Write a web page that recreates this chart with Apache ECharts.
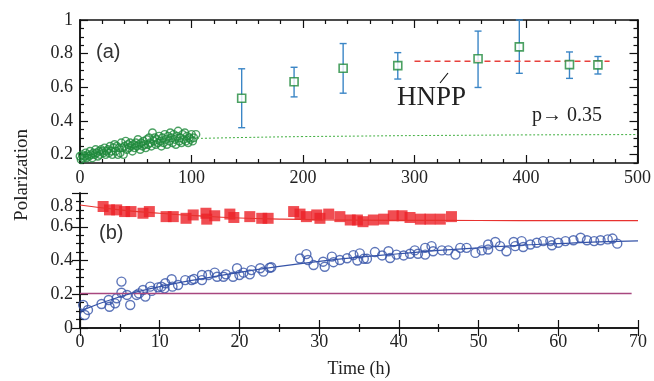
<!DOCTYPE html>
<html>
<head>
<meta charset="utf-8">
<script src="https://cdn.jsdelivr.net/npm/echarts@6/dist/echarts.min.js"></script>
<style>
  html, body { margin: 0; padding: 0; background: #fff; }
  #chart { width: 654px; height: 381px; }
</style>
</head>
<body>
<div id="chart"></div>
<script>
// ---- panel (a): polarization vs number ----
const greenX = [0, 1, 2, 3, 4, 5, 6, 7, 8, 9, 10, 11, 12, 13, 14, 15, 16, 17, 18, 19, 20, 21, 22, 23, 24, 25, 26, 27, 28, 29,
  30, 31, 32, 33, 34, 35, 36, 37, 38, 39, 40, 41, 42, 43, 44, 45, 46, 47, 48, 49, 50, 51, 52, 53, 54, 55, 56, 57, 58, 59,
  60, 61, 62, 63, 64, 65, 66, 67, 68, 69, 70, 71, 72, 73, 74, 75, 76, 77, 78, 79, 80, 81, 82, 83, 84, 85, 86, 87, 88, 89,
  90, 91, 92, 93, 94, 95, 96, 97, 98, 99, 100, 101, 102, 104];
const greenY = [0.19, 0.17, 0.2, 0.18, 0.19, 0.21, 0.18, 0.2, 0.19, 0.22, 0.2, 0.18, 0.21, 0.2, 0.23, 0.21, 0.19, 0.22, 0.2, 0.23,
  0.22, 0.21, 0.24, 0.2, 0.22, 0.23, 0.21, 0.25, 0.22, 0.2, 0.24, 0.26, 0.22, 0.25, 0.2, 0.24, 0.21, 0.27, 0.24, 0.2,
  0.25, 0.28, 0.23, 0.26, 0.24, 0.27, 0.25, 0.22, 0.26, 0.24, 0.27, 0.25, 0.29, 0.26, 0.23, 0.27, 0.25, 0.28, 0.26, 0.24,
  0.29, 0.26, 0.3, 0.27, 0.25, 0.33, 0.28, 0.3, 0.26, 0.29, 0.27, 0.31, 0.28, 0.25, 0.3, 0.27, 0.32, 0.29, 0.26, 0.31,
  0.28, 0.33, 0.3, 0.27, 0.32, 0.29, 0.26, 0.31, 0.34, 0.28, 0.3, 0.27, 0.32, 0.29, 0.33, 0.28, 0.31, 0.27, 0.3, 0.29,
  0.32, 0.28, 0.3, 0.32];
const greenFitX = [105, 150, 200, 250, 300, 350, 400, 450, 500];
const greenFitY = [0.296, 0.302, 0.307, 0.31, 0.313, 0.315, 0.317, 0.318, 0.319];

const squareX = [145, 192, 236, 285, 357, 394, 439, 464.5];
const squareY = [0.535, 0.633, 0.713, 0.729, 0.77, 0.84, 0.735, 0.733];
const squareLo = [0.36, 0.543, 0.565, 0.649, 0.599, 0.683, 0.653, 0.679];
const squareHi = [0.71, 0.719, 0.86, 0.806, 0.934, 1.0, 0.81, 0.783];

const hnppX = [300, 475];
const hnppY = [0.755, 0.755];

// ---- panel (b): polarization vs time ----
const redX = [2.9, 3.7, 4.6, 5.6, 6.4, 7.9, 8.7, 10.8, 11.7, 13.3, 14.2, 15.8, 15.9, 16.9, 18.8, 19.3, 21.3, 22.8, 23.6,
  26.8, 27.6, 28.4, 29.7, 30.1, 31.2, 32.6, 33.9, 34.8, 35.5, 36.8, 38.1, 39.3, 40.4, 41.4, 42.7, 43.9, 45.2, 46.6];
const redY = [0.72, 0.7, 0.7, 0.69, 0.69, 0.68, 0.69, 0.66, 0.66, 0.65, 0.67, 0.68, 0.645, 0.665, 0.675, 0.655, 0.66, 0.65, 0.65,
  0.69, 0.675, 0.66, 0.67, 0.65, 0.675, 0.66, 0.64, 0.64, 0.63, 0.64, 0.645, 0.665, 0.665, 0.655, 0.645, 0.645, 0.645, 0.66];
const redFitX = [0, 5, 10, 15, 20, 25, 30, 40, 50, 60, 70];
const redFitY = [0.729, 0.7, 0.68, 0.664, 0.652, 0.645, 0.641, 0.638, 0.637, 0.636, 0.636];

const blueX = [0.4, 0.6, 1.0, 2.7, 3.6, 3.7, 4.4, 4.6, 5.2, 5.2, 5.9, 6.3, 7.1, 7.4, 7.9, 8.2, 8.8, 9.0, 9.8, 10.2,
  10.6, 10.7, 11.5, 11.6, 12.3, 13.2, 14.0, 14.3, 15.3, 15.3, 16.1, 16.9, 17.2, 18.0, 18.3, 19.2, 19.7, 20.0, 20.5, 21.3,
  21.5, 22.6, 23.0, 23.8, 24.0, 27.6, 28.4, 28.6, 29.3, 30.5, 30.7, 31.6, 31.8, 32.6, 33.5, 34.3, 34.8, 35.1, 35.6, 36.0,
  37.0, 37.9, 38.7, 38.9, 39.7, 40.6, 41.4, 42.0, 42.4, 43.3, 43.3, 44.1, 44.3, 45.4, 46.2, 47.1, 47.7, 48.5, 49.6, 50.4,
  51.2, 51.2, 52.1, 52.7, 53.5, 54.4, 54.6, 55.4, 55.6, 56.5, 57.3, 58.1, 59.0, 59.2, 60.0, 60.9, 61.9, 62.8, 63.6, 64.5,
  65.3, 66.2, 66.8, 67.4];
const blueY = [0.136, 0.077, 0.107, 0.142, 0.166, 0.126, 0.146, 0.176, 0.209, 0.275, 0.196, 0.136, 0.196, 0.205, 0.225, 0.186, 0.245, 0.22, 0.241, 0.245,
  0.235, 0.265, 0.289, 0.245, 0.255, 0.284, 0.284, 0.29, 0.314, 0.284, 0.314, 0.328, 0.304, 0.304, 0.318, 0.304, 0.354, 0.314, 0.328, 0.318,
  0.343, 0.354, 0.334, 0.357, 0.36, 0.412, 0.438, 0.403, 0.373, 0.393, 0.363, 0.423, 0.39, 0.403, 0.413, 0.432, 0.4, 0.442, 0.41, 0.41,
  0.45, 0.43, 0.455, 0.415, 0.435, 0.43, 0.44, 0.46, 0.44, 0.475, 0.435, 0.485, 0.455, 0.46, 0.46, 0.435, 0.475, 0.475, 0.445, 0.46,
  0.495, 0.465, 0.51, 0.485, 0.455, 0.51, 0.485, 0.515, 0.48, 0.495, 0.505, 0.515, 0.515, 0.49, 0.505, 0.515, 0.52, 0.535, 0.52, 0.515,
  0.52, 0.525, 0.53, 0.5];
const blueFitX = [0, 5, 10, 15, 20, 25, 30, 35, 40, 45, 50, 55, 60, 65, 70];
const blueFitY = [0.1, 0.185, 0.245, 0.29, 0.33, 0.365, 0.395, 0.42, 0.44, 0.46, 0.475, 0.49, 0.5, 0.51, 0.516];

const limitX = [0, 69.2];
const limitY = [0.205, 0.205];

const topMajor = [0.2, 0.4, 0.6, 0.8, 1];
const topMinor = [0.15, 0.25, 0.3, 0.35, 0.45, 0.5, 0.55, 0.65, 0.7, 0.75, 0.85, 0.9, 0.95];

const SERIF = 'Liberation Serif';
const zip = (xs, ys) => xs.map((x, i) => [x, ys[i]]);

const chart = echarts.init(document.getElementById('chart'));

const axisLine = { show: true, lineStyle: { color: '#111', width: 1.5 } };
const tickLine = { color: '#111', width: 1.2 };
const labelStyle = { fontFamily: SERIF, fontSize: 18, color: '#222' };

function xAxisOf(grid, pos, max, interval, minorSplit, showLabel) {
  return {
    type: 'value', gridIndex: grid, position: pos, min: 0, max, interval,
    axisLine,
    axisTick: { inside: true, length: 8, lineStyle: tickLine },
    minorTick: { show: true, splitNumber: minorSplit, length: 4, lineStyle: tickLine },
    axisLabel: showLabel ? { ...labelStyle, margin: 6 } : { show: false },
    splitLine: { show: false },
  };
}

function yTicksOnly(grid, pos, min, max, ticks, length) {
  return {
    type: 'value', gridIndex: grid, position: pos, min, max,
    axisLine,
    axisTick: { inside: true, length, customValues: ticks, lineStyle: tickLine },
    axisLabel: { show: false },
    splitLine: { show: false },
  };
}

const option = {
  animation: false,
  grid: [
    { left: 80, right: 16, top: 20, height: 143 },
    { left: 80, right: 16, top: 193, height: 135 },
  ],
  xAxis: [
    xAxisOf(0, 'bottom', 500, 100, 5, true),
    xAxisOf(0, 'top', 500, 100, 5, false),
    {
      ...xAxisOf(1, 'bottom', 70, 10, 2, true),
      name: 'Time (h)', nameLocation: 'middle', nameGap: 32,
      nameTextStyle: { fontFamily: SERIF, fontSize: 18, color: '#222' },
      axisLabel: { ...labelStyle, margin: 5 },
    },
    xAxisOf(1, 'top', 70, 10, 2, false),
  ],
  yAxis: [
    {
      type: 'value', gridIndex: 0, position: 'left', min: 0.15, max: 1,
      axisLine,
      axisTick: { inside: true, length: 8, customValues: topMajor, lineStyle: tickLine },
      axisLabel: { ...labelStyle, margin: 7, customValues: topMajor },
      splitLine: { show: false },
    },
    yTicksOnly(0, 'left', 0.15, 1, topMinor, 4),
    yTicksOnly(0, 'right', 0.15, 1, topMajor, 8),
    yTicksOnly(0, 'right', 0.15, 1, topMinor, 4),
    {
      type: 'value', gridIndex: 1, position: 'left', min: 0, max: 0.8, interval: 0.2,
      axisLine,
      axisTick: { inside: true, length: 8, lineStyle: tickLine },
      minorTick: { show: true, splitNumber: 4, length: 4, lineStyle: tickLine },
      axisLabel: {
        ...labelStyle, margin: 7,
        // the top label sits a little low so it clears the panel above
        formatter: (v) => (Math.abs(v - 0.8) < 1e-6 ? '{low|0.8}' : String(Math.round(v * 10) / 10)),
        rich: { low: { ...labelStyle, padding: [26, 0, 0, 0] } },
      },
      splitLine: { show: false },
    },
    {
      type: 'value', gridIndex: 1, position: 'right', min: 0, max: 0.8, interval: 0.2,
      axisLine,
      axisTick: { inside: true, length: 8, lineStyle: tickLine },
      minorTick: { show: true, splitNumber: 4, length: 4, lineStyle: tickLine },
      axisLabel: { show: false },
      splitLine: { show: false },
    },
  ],
  series: [
    // panel (a)
    {
      type: 'line', xAxisIndex: 0, yAxisIndex: 0, data: zip(greenFitX, greenFitY),
      smooth: true, showSymbol: false, lineStyle: { color: '#3fae3f', width: 1, type: [2, 2] },
    },
    {
      type: 'scatter', xAxisIndex: 0, yAxisIndex: 0, data: zip(greenX, greenY),
      symbol: 'circle', symbolSize: 7.5,
      itemStyle: { color: 'rgba(255,255,255,0)', borderColor: '#1f8a3c', borderWidth: 1.4 },
    },
    {
      type: 'line', xAxisIndex: 0, yAxisIndex: 0, data: zip(hnppX, hnppY),
      showSymbol: false, lineStyle: { color: '#e8413c', width: 1.5, type: [6, 4] },
    },
    {
      type: 'custom', xAxisIndex: 0, yAxisIndex: 0,
      data: squareX.map((x, i) => [x, squareLo[i], squareHi[i]]),
      encode: { x: 0, y: [1, 2] },
      renderItem: (params, api) => {
        const top = api.coord([api.value(0), api.value(2)]);
        const bot = api.coord([api.value(0), api.value(1)]);
        const w = 3.5;
        const style = { stroke: '#3b86c6', lineWidth: 1.4 };
        return {
          type: 'group',
          children: [
            { type: 'line', shape: { x1: top[0], y1: top[1], x2: bot[0], y2: bot[1] }, style },
            { type: 'line', shape: { x1: top[0] - w, y1: top[1], x2: top[0] + w, y2: top[1] }, style },
            { type: 'line', shape: { x1: bot[0] - w, y1: bot[1], x2: bot[0] + w, y2: bot[1] }, style },
          ],
        };
      },
    },
    {
      type: 'scatter', xAxisIndex: 0, yAxisIndex: 0, data: zip(squareX, squareY), z: 5,
      symbol: 'rect', symbolSize: 8,
      itemStyle: { color: '#fff', borderColor: '#1f8a3c', borderWidth: 1.6 },
    },
    // panel (b)
    {
      type: 'line', xAxisIndex: 2, yAxisIndex: 4, data: zip(limitX, limitY),
      showSymbol: false, lineStyle: { color: '#a8477f', width: 1.5 },
    },
    {
      type: 'line', xAxisIndex: 2, yAxisIndex: 4, data: zip(redFitX, redFitY),
      smooth: true, showSymbol: false, lineStyle: { color: '#e8322f', width: 1.2 },
    },
    {
      type: 'line', xAxisIndex: 2, yAxisIndex: 4, data: zip(blueFitX, blueFitY),
      smooth: true, showSymbol: false, lineStyle: { color: '#3553a8', width: 1.2 },
    },
    {
      type: 'scatter', xAxisIndex: 2, yAxisIndex: 4, data: zip(redX, redY),
      symbol: 'rect', symbolSize: 11, itemStyle: { color: '#ec2127' },
    },
    {
      type: 'scatter', xAxisIndex: 2, yAxisIndex: 4, data: zip(blueX, blueY),
      symbol: 'circle', symbolSize: 9,
      itemStyle: { color: 'rgba(255,255,255,0)', borderColor: '#3553a8', borderWidth: 1.4 },
    },
  ],
  graphic: [
    { type: 'text', left: 96, top: 42, style: { text: '(a)', font: '20px "Liberation Sans"', fill: '#333' } },
    { type: 'text', left: 99, top: 223, style: { text: '(b)', font: '20px "Liberation Sans"', fill: '#333' } },
    { type: 'text', left: 397, top: 84, style: { text: 'HNPP', font: '27px "Liberation Serif"', fill: '#222' } },
    { type: 'line', shape: { x1: 440, y1: 83, x2: 448, y2: 73 }, style: { stroke: '#111', lineWidth: 1.2 } },
    { type: 'text', left: 532, top: 106, style: { text: 'p\u2192 0.35', font: '20px "Liberation Serif"', fill: '#222' } },
    {
      type: 'text', x: 22, y: 175, rotation: Math.PI / 2,
      style: { text: 'Polarization', font: '19px "Liberation Serif"', fill: '#222', align: 'center', verticalAlign: 'middle' },
    },
  ],
};

chart.setOption(option);
</script>
</body>
</html>
